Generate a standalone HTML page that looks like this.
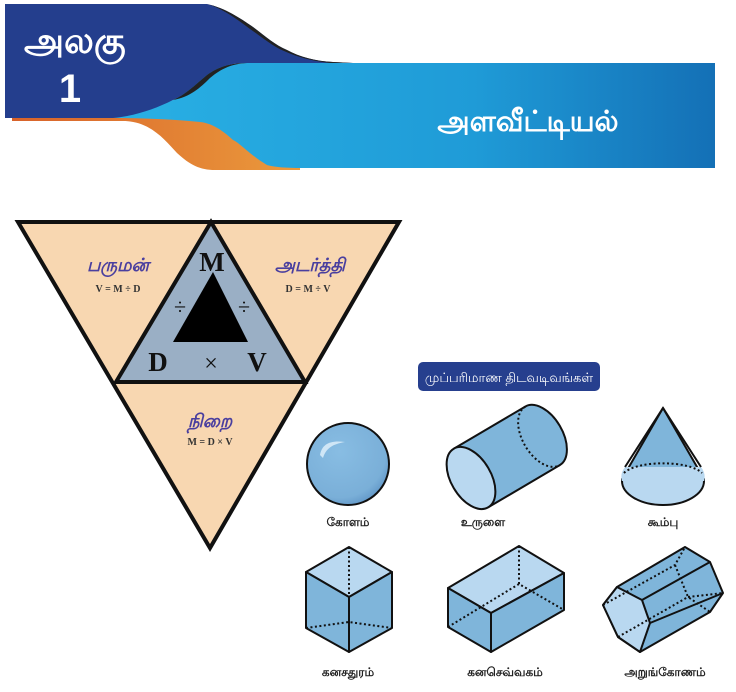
<!DOCTYPE html>
<html><head><meta charset="utf-8"><style>
body{margin:0;width:736px;height:692px;background:#fff;overflow:hidden}
svg{display:block}
.t{font-family:"Liberation Sans","Noto Sans CJK SC",sans-serif}
.s{font-family:"Liberation Serif",serif}
</style></head><body>
<svg width="736" height="692" viewBox="0 0 736 692">
<defs>
<linearGradient id="bl" x1="0" x2="1"><stop offset="0" stop-color="#29b0e4"/><stop offset="0.6" stop-color="#1f9bd7"/><stop offset="1" stop-color="#1470b6"/></linearGradient>
<linearGradient id="or" x1="0" x2="1"><stop offset="0" stop-color="#d8622a"/><stop offset="1" stop-color="#eb9a3c"/></linearGradient>
<radialGradient id="sp" cx="0.4" cy="0.35" r="0.7"><stop offset="0" stop-color="#88bde3"/><stop offset="0.8" stop-color="#7aafd8"/><stop offset="1" stop-color="#5f95c6"/></radialGradient>
</defs>
<!-- header -->
<path d="M12 116 L300 116 L300 170 L215 170 C200 170 190 165 177 153 C165 140 150 121 123 121 L12 121 Z" fill="url(#or)"/>
<path d="M113 118 C140 112 160 105 173 100 C190 90 200 80 207 72 C220 66 232 63 247 63 L715 63 L715 168 L300 168 C280 168 270 166 267 165 C250 155 240 143 233 140 C220 128 210 123 200 122 C170 119 140 118 113 118Z" fill="url(#bl)"/>
<path d="M5 4 L207 4 C225 8 240 18 253 27 C265 36 275 45 287 50 C300 57 315 61 333 62 L353 63 L247 63 C230 63 218 67 207 75 C195 85 185 95 173 100 C155 109 135 116 113 118 L5 118Z" fill="#243e8d"/>
<path d="M207 4 C225 8 240 18 253 27 C265 36 275 45 287 50 C300 57 315 61 333 62 L353 63 L330 63 C312 61 297 57 284 51 C272 46 262 37 250 29 C238 20 224 9 207 4Z" fill="#222"/>
<path d="M247 63 C230 63 218 67 207 75 C195 85 185 95 173 100 C190 97 200 88 210 78 C222 68 232 64 247 63Z" fill="#222"/>
<text x="24" y="53" class="t" font-size="36" font-weight="bold" fill="#fff">அலகு</text>
<text x="70" y="102" class="t" font-size="40" font-weight="bold" fill="#fff" text-anchor="middle">1</text>
<text x="528" y="131" class="t" font-size="29" font-weight="bold" fill="#fff" text-anchor="middle">அளவீட்டியல்</text>
<!-- triangle -->
<polygon points="18,222 399,222 210,548" fill="#f8d7b1" stroke="#111" stroke-width="4" stroke-linejoin="miter"/>
<polygon points="211,222 305,382 116,382" fill="#9aafc5" stroke="#111" stroke-width="4"/>
<polygon points="213,272 248,342 173,342" fill="#000"/>
<text x="118" y="271" class="t" font-size="18" font-weight="bold" font-style="italic" fill="#4a3f9f" text-anchor="middle">பருமன்</text>
<text x="118" y="292" class="s" font-size="10" font-weight="bold" fill="#333" text-anchor="middle">V = M ÷ D</text>
<text x="310" y="271" class="t" font-size="18" font-weight="bold" font-style="italic" fill="#4a3f9f" text-anchor="middle">அடர்த்தி</text>
<text x="308" y="292" class="s" font-size="10" font-weight="bold" fill="#333" text-anchor="middle">D = M ÷ V</text>
<text x="210" y="427" class="t" font-size="18" font-weight="bold" font-style="italic" fill="#4a3f9f" text-anchor="middle">நிறை</text>
<text x="210" y="445" class="s" font-size="10" font-weight="bold" fill="#333" text-anchor="middle">M = D × V</text>
<text x="212" y="271" class="s" font-size="27" font-weight="bold" fill="#111" text-anchor="middle">M</text>
<text x="158" y="371" class="s" font-size="27" font-weight="bold" fill="#111" text-anchor="middle">D</text>
<text x="211" y="371" class="s" font-size="24" fill="#111" text-anchor="middle">×</text>
<text x="257" y="371" class="s" font-size="27" font-weight="bold" fill="#111" text-anchor="middle">V</text>
<text x="180" y="314" class="s" font-size="22" fill="#111" text-anchor="middle">÷</text>
<text x="244" y="314" class="s" font-size="22" fill="#111" text-anchor="middle">÷</text>
<!-- label box -->
<rect x="418" y="362" width="182" height="29" rx="5" fill="#263f8e"/>
<text x="509" y="382" class="t" font-size="13" fill="#fff" text-anchor="middle">முப்பரிமாண திடவடிவங்கள்</text>
<!-- sphere -->
<circle cx="348" cy="464" r="41" fill="url(#sp)" stroke="#111" stroke-width="2"/>
<path d="M320 455 C322 444 330 440 345 442 C333 444 326 448 323 458Z" fill="#cfe6f6"/>
<!-- cylinder -->
<g transform="translate(471,478) rotate(-30.5)" stroke="#111" stroke-width="2">
<path d="M0 -34 L83 -34 A20 34 0 0 1 83 34 L0 34" fill="#7fb5da"/>
<path d="M83 -34 A20 34 0 0 0 83 34" fill="none" stroke-dasharray="2 2.5"/>
<ellipse cx="0" cy="0" rx="20" ry="34" fill="#b9d8f0"/>
</g>
<!-- cone -->
<path d="M663 408 L704 479 A41 24 0 0 1 622 479 Z" fill="#7fb5da" stroke="#111" stroke-width="2" stroke-linejoin="round"/>
<path d="M625 467 A41 24 0 0 0 622 481 A41 24 0 0 0 704 481 A41 24 0 0 0 701 467 Z" fill="#b9d8f0" stroke="none"/>
<path d="M625 467 L663 408 L701 467" fill="none" stroke="#111" stroke-width="2"/>
<path d="M622 481 A41 24 0 0 0 704 481" fill="none" stroke="#111" stroke-width="2"/>
<path d="M624 473 A41 14 0 0 1 702 473" fill="none" stroke="#111" stroke-width="2" stroke-dasharray="2 2.5"/>
<!-- labels row1 -->
<text x="348" y="526" class="t" font-size="12" font-weight="bold" fill="#222" text-anchor="middle">கோளம்</text>
<text x="483" y="526" class="t" font-size="12" font-weight="bold" fill="#222" text-anchor="middle">உருளை</text>
<text x="663" y="526" class="t" font-size="12" font-weight="bold" fill="#222" text-anchor="middle">கூம்பு</text>
<!-- cube -->
<g stroke="#111" stroke-width="2" stroke-linejoin="round">
<polygon points="349,547 392,572 349,597 306,572" fill="#b9d8f0"/>
<polygon points="306,572 349,597 349,652 306,628" fill="#7fb5da"/>
<polygon points="349,597 392,572 392,628 349,652" fill="#7fb5da"/>
<path d="M349 547 L349 622 M306 628 L349 622 L392 628" fill="none" stroke-dasharray="2 2.5"/>
</g>
<!-- cuboid -->
<g stroke="#111" stroke-width="2" stroke-linejoin="round">
<polygon points="519,546 564,573 491,613 448,588" fill="#b9d8f0"/>
<polygon points="448,588 491,613 491,652 448,627" fill="#7fb5da"/>
<polygon points="491,613 564,573 564,610 491,652" fill="#7fb5da"/>
<path d="M519 546 L519 584 M448 627 L519 584 L564 610" fill="none" stroke-dasharray="2 2.5"/>
</g>
<!-- hex prism -->
<g stroke="#111" stroke-width="2" stroke-linejoin="round">
<polygon points="617,587 685,547 710,562 723,593 710,612 640,652 618,637 603,605" fill="#7fb5da"/>
<polygon points="617,587 642,600 650,623 640,652 618,637 603,605" fill="#b9d8f0"/>
<path d="M642 600 L710 562 M650 623 L723 593" fill="none"/>
<path d="M603 605 L675 565 L685 547 M675 565 L688 597 L710 612 M688 597 L723 593 M618 637 L688 597" fill="none" stroke-dasharray="2 2.5"/>
</g>
<text x="348" y="676" class="t" font-size="12" font-weight="bold" fill="#222" text-anchor="middle">கனசதுரம்</text>
<text x="505" y="676" class="t" font-size="12" font-weight="bold" fill="#222" text-anchor="middle">கனசெவ்வகம்</text>
<text x="665" y="676" class="t" font-size="12" font-weight="bold" fill="#222" text-anchor="middle">அறுங்கோணம்</text>
</svg>
</body></html>
